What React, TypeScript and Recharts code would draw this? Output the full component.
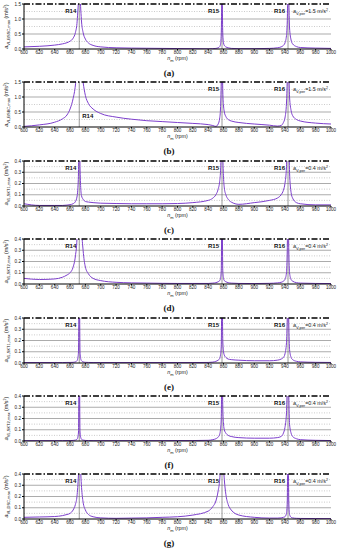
import { LineChart, Line, XAxis, YAxis, ReferenceLine } from 'recharts';

// shared rpm grid (denser around the resonances R14, R15, R16)
const rpm = [
  600, 620, 640, 650, 656, 660, 664, 667, 669, 670, 671, 672, 673, 674, 675, 677, 680, 684, 690, 700,
  720, 740, 760, 780, 800, 820, 840, 846, 850, 853, 855, 856, 857, 858, 859, 860, 861, 863, 866, 870,
  880, 900, 920, 930, 935, 938, 940, 942, 943, 944, 945, 946, 948, 950, 955, 960, 980, 1000,
];

const xTicks = [600, 620, 640, 660, 680, 700, 720, 740, 760, 780, 800, 820, 840, 860, 880, 900, 920, 940, 960, 980, 1000];
const resonances = [
  { rpm: 672, name: 'R14' },
  { rpm: 858, name: 'R15' },
  { rpm: 944, name: 'R16' },
];

const valuesA = [
  0.07, 0.09, 0.13, 0.17, 0.21, 0.26, 0.36, 0.55, 0.85, 1.2, 1.6, 2.0, 1.8, 1.3, 0.9, 0.55, 0.33, 0.2, 0.12, 0.07,
  0.04, 0.03, 0.025, 0.02, 0.015, 0.01, 0.005, 0.01, 0.02, 0.04, 0.08, 0.15, 0.5, 2.0, 0.5, 0.2, 0.12, 0.07, 0.04, 0.02,
  0.01, 0.01, 0.02, 0.04, 0.07, 0.12, 0.2, 0.45, 0.9, 2.0, 1.6, 0.7, 0.3, 0.17, 0.08, 0.05, 0.03, 0.02,
];
const valuesB = [
  0.02, 0.07, 0.16, 0.27, 0.4, 0.6, 0.95, 1.4, 2.0, 2.5, 3.0, 3.0, 3.0, 2.5, 2.0, 1.5, 1.05, 0.78, 0.6, 0.45,
  0.33, 0.26, 0.21, 0.18, 0.15, 0.12, 0.08, 0.05, 0.02, 0.1, 0.3, 0.6, 1.5, 3.0, 1.2, 0.7, 0.5, 0.35, 0.25, 0.2,
  0.15, 0.1, 0.06, 0.03, 0.05, 0.15, 0.3, 0.8, 1.6, 3.0, 2.0, 1.0, 0.55, 0.38, 0.25, 0.2, 0.13, 0.1,
];
const valuesC = [
  0.02, 0.005, 0.005, 0.005, 0.008, 0.012, 0.02, 0.04, 0.08, 0.14, 0.3, 0.8, 0.35, 0.15, 0.09, 0.06, 0.04, 0.035, 0.03, 0.025,
  0.022, 0.02, 0.02, 0.02, 0.022, 0.03, 0.05, 0.07, 0.1, 0.15, 0.22, 0.3, 0.5, 0.8, 0.45, 0.25, 0.16, 0.1, 0.06, 0.035,
  0.015, 0.03, 0.05, 0.07, 0.1, 0.14, 0.2, 0.35, 0.6, 0.8, 0.6, 0.3, 0.12, 0.07, 0.03, 0.02, 0.01, 0.01,
];
const valuesD = [
  0.05, 0.04, 0.045, 0.06, 0.08, 0.1, 0.15, 0.25, 0.4, 0.6, 0.8, 0.8, 0.8, 0.7, 0.5, 0.3, 0.15, 0.09, 0.05, 0.03,
  0.015, 0.01, 0.008, 0.006, 0.005, 0.005, 0.005, 0.008, 0.012, 0.02, 0.03, 0.05, 0.12, 0.8, 0.12, 0.05, 0.03, 0.02, 0.012, 0.008,
  0.005, 0.004, 0.006, 0.01, 0.015, 0.025, 0.04, 0.1, 0.3, 0.8, 0.3, 0.1, 0.04, 0.025, 0.012, 0.008, 0.005, 0.004,
];
const valuesE = [
  0.004, 0.004, 0.004, 0.004, 0.005, 0.005, 0.006, 0.01, 0.02, 0.04, 0.1, 0.8, 0.1, 0.035, 0.02, 0.01, 0.006, 0.005, 0.004, 0.004,
  0.004, 0.004, 0.004, 0.004, 0.004, 0.004, 0.005, 0.008, 0.015, 0.025, 0.04, 0.07, 0.15, 0.8, 0.2, 0.1, 0.07, 0.05, 0.035, 0.03,
  0.025, 0.02, 0.02, 0.025, 0.035, 0.05, 0.08, 0.18, 0.4, 0.8, 0.35, 0.12, 0.05, 0.03, 0.015, 0.01, 0.006, 0.005,
];
const valuesF = [
  0.003, 0.003, 0.003, 0.003, 0.004, 0.004, 0.005, 0.008, 0.015, 0.03, 0.08, 0.8, 0.08, 0.03, 0.015, 0.008, 0.005, 0.004, 0.003, 0.003,
  0.003, 0.003, 0.003, 0.003, 0.004, 0.004, 0.006, 0.012, 0.02, 0.035, 0.06, 0.1, 0.2, 0.8, 0.3, 0.15, 0.1, 0.07, 0.05, 0.04,
  0.03, 0.025, 0.025, 0.03, 0.04, 0.07, 0.12, 0.25, 0.5, 0.8, 0.4, 0.15, 0.07, 0.04, 0.02, 0.012, 0.006, 0.004,
];
const valuesG = [
  0.015, 0.018, 0.022, 0.03, 0.04, 0.05, 0.08, 0.13, 0.2, 0.28, 0.4, 0.6, 0.6, 0.4, 0.28, 0.15, 0.08, 0.04, 0.02, 0.01,
  0.006, 0.008, 0.01, 0.015, 0.02, 0.035, 0.07, 0.11, 0.16, 0.25, 0.35, 0.45, 0.6, 0.7, 0.6, 0.45, 0.35, 0.22, 0.13, 0.08,
  0.035, 0.015, 0.008, 0.008, 0.01, 0.015, 0.02, 0.05, 0.15, 0.8, 0.15, 0.04, 0.015, 0.01, 0.006, 0.005, 0.004, 0.003,
];

const ticksBig = [0, 0.5, 1.0, 1.5];
const minorBig = [0.25, 0.75, 1.25];
const ticksSmall = [0, 0.1, 0.2, 0.3, 0.4];
const minorSmall = [0.05, 0.15, 0.25, 0.35];

const panels = [
  { caption: '(a)', top: 4, values: valuesA, yMax: 1.5, ticks: ticksBig, minor: minorBig, sub: 'VL,BSSC,max', limit: '1.5' },
  { caption: '(b)', top: 82, values: valuesB, yMax: 1.5, ticks: ticksBig, minor: minorBig, sub: 'VL,BSBC,max', limit: '1.5', r14Low: true },
  { caption: '(c)', top: 161, values: valuesC, yMax: 0.4, ticks: ticksSmall, minor: minorSmall, sub: 'VL,SKT1,max', limit: '0.4' },
  { caption: '(d)', top: 239, values: valuesD, yMax: 0.4, ticks: ticksSmall, minor: minorSmall, sub: 'VL,SKT2,max', limit: '0.4' },
  { caption: '(e)', top: 318, values: valuesE, yMax: 0.4, ticks: ticksSmall, minor: minorSmall, sub: 'VL,SKT1,max', limit: '0.4' },
  { caption: '(f)', top: 396, values: valuesF, yMax: 0.4, ticks: ticksSmall, minor: minorSmall, sub: 'VL,SKT2,max', limit: '0.4' },
  { caption: '(g)', top: 474, values: valuesG, yMax: 0.4, ticks: ticksSmall, minor: minorSmall, sub: 'VL,DSC,max', limit: '0.4' },
];

const FONT = '"Liberation Sans", Arial, sans-serif';
const PURPLE = '#7d3fcc';
const PLOT_TOP = 4;
const PLOT_H = 45;
const PLOT_LEFT = 24;
const PLOT_RIGHT = 331;

type PanelProps = (typeof panels)[number];

function Panel({ caption, top, values, yMax, ticks, minor, sub, limit, r14Low }: PanelProps & { r14Low?: boolean }) {
  const data = rpm.map((r, i) => ({ rpm: r, v: values[i] }));
  const midY = PLOT_TOP + PLOT_H / 2;
  return (
    <div style={{ position: 'absolute', left: 0, top: top - PLOT_TOP, width: 338, height: 78 }}>
      <LineChart width={338} height={60} data={data} margin={{ top: PLOT_TOP, right: 338 - PLOT_RIGHT, bottom: 0, left: 0 }}>
        <XAxis
          dataKey="rpm"
          type="number"
          domain={[600, 1000]}
          ticks={xTicks}
          interval={0}
          height={11}
          tickSize={1.5}
          tickMargin={0}
          stroke="#000"
          tick={{ fontSize: 4.6, fill: '#222', fontFamily: FONT }}
        />
        <YAxis
          type="number"
          domain={[0, yMax]}
          ticks={ticks}
          allowDataOverflow
          width={PLOT_LEFT}
          tickSize={2}
          tickMargin={1}
          stroke="#000"
          tickFormatter={(v: number) => v.toFixed(1)}
          tick={{ fontSize: 4.6, fill: '#222', fontFamily: FONT }}
          label={{
            content: () => (
              <text
                x={8}
                y={midY}
                transform={`rotate(-90 8 ${midY})`}
                textAnchor="middle"
                fontSize={5.4}
                fontFamily={FONT}
                fill="#222"
              >
                <tspan fontStyle="italic">a</tspan>
                <tspan fontSize={4} dy={1.5}>{sub}</tspan>
                <tspan dy={-1.5}> (m/s</tspan>
                <tspan fontSize={3.6} dy={-2}>2</tspan>
                <tspan dy={2}>)</tspan>
              </text>
            ),
          }}
        />
        {minor.map((m) => (
          <ReferenceLine key={'m' + m} y={m} stroke="#aaa" strokeWidth={0.6} strokeDasharray="1 1.5" />
        ))}
        {ticks.slice(1, -1).map((t) => (
          <ReferenceLine key={'t' + t} y={t} stroke="#888" strokeWidth={0.7} />
        ))}
        {resonances.map((r) => (
          <ReferenceLine
            key={r.name}
            x={r.rpm}
            stroke="#555"
            strokeWidth={0.6}
            label={{
              content: (p: any) => {
                const x = p.viewBox?.x ?? 0;
                const low = r.name === 'R14' && r14Low;
                return (
                  <text
                    x={low ? x + 3 : x - 3}
                    y={low ? PLOT_TOP + 36 : PLOT_TOP + 9}
                    textAnchor={low ? 'start' : 'end'}
                    fontSize={6}
                    fontWeight="bold"
                    fontFamily={FONT}
                    fill="#111"
                  >
                    {r.name}
                  </text>
                );
              },
            }}
          />
        ))}
        <Line
          type="monotone"
          dataKey="v"
          stroke={PURPLE}
          strokeWidth={1}
          dot={false}
          isAnimationActive={false}
        />
        <ReferenceLine
          y={yMax}
          stroke="#000"
          strokeWidth={1.3}
          strokeDasharray="6 2 1.5 2"
          label={{
            content: () => (
              <text x={293} y={PLOT_TOP + 9} fontSize={5.4} fontFamily={FONT} fill="#222">
                <tspan fontStyle="italic">a</tspan>
                <tspan fontSize={4} dy={1.5}>V,per</tspan>
                <tspan dy={-1.5}>{`=${limit} m/s`}</tspan>
                <tspan fontSize={3.6} dy={-2}>2</tspan>
              </text>
            ),
          }}
        />
      </LineChart>
      <div
        style={{
          position: 'absolute',
          left: 0,
          width: PLOT_LEFT + PLOT_RIGHT,
          top: 55,
          height: 6,
          textAlign: 'center',
          fontFamily: FONT,
          fontSize: 5.4,
          color: '#222',
          lineHeight: '6px',
          whiteSpace: 'nowrap',
        }}
      >
        <i>n</i>
        <span style={{ fontSize: 4, position: 'relative', top: 1.5 }}>m</span> (rpm)
      </div>
      <div
        style={{
          position: 'absolute',
          left: 0,
          width: 338,
          top: 68,
          height: 10,
          textAlign: 'center',
          fontFamily: '"Liberation Serif", "Times New Roman", serif',
          fontWeight: 'bold',
          fontSize: 9,
          color: '#111',
          lineHeight: '10px',
        }}
      >
        {caption}
      </div>
    </div>
  );
}

export default function App() {
  return (
    <div style={{ position: 'absolute', left: 0, top: 0, width: 338, height: 550, background: '#fff' }}>
      {panels.map((p) => (
        <Panel key={p.caption} {...p} />
      ))}
    </div>
  );
}
